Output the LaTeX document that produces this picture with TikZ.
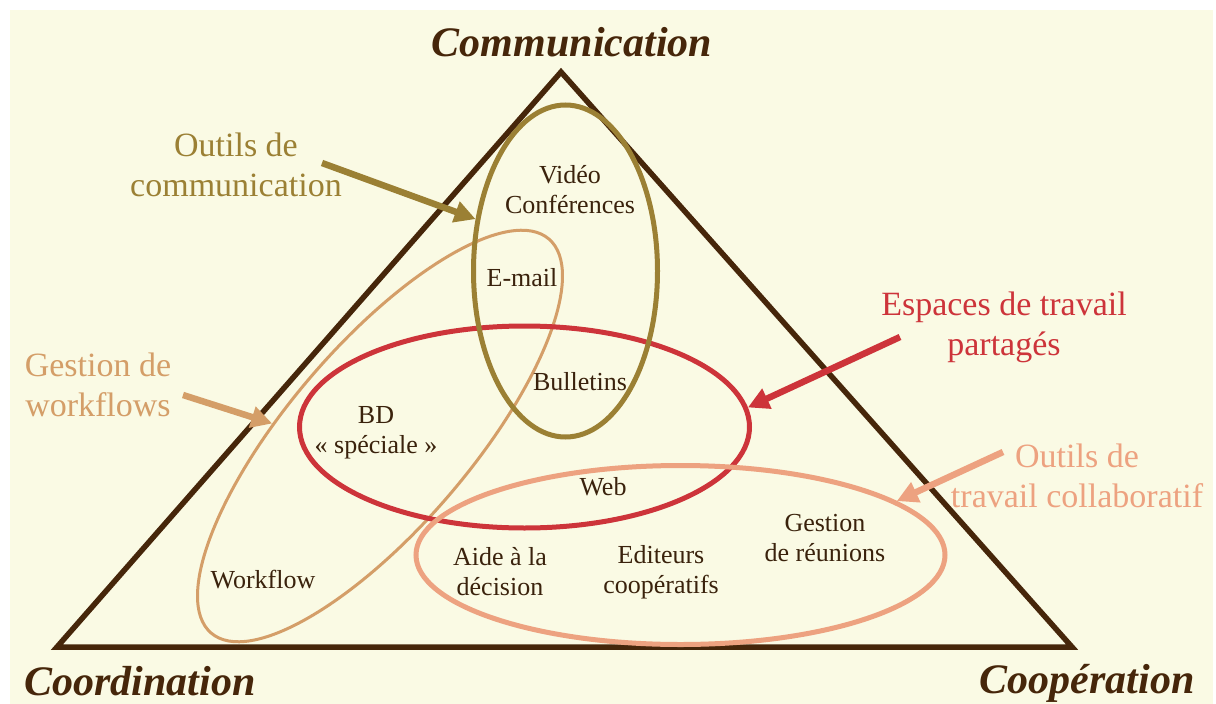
\documentclass[tikz,border=0pt]{standalone}
\usepackage{fontspec}
\setmainfont{Liberation Serif}
\usetikzlibrary{shapes.geometric, arrows.meta}
\definecolor{bgyellow}{RGB}{250,250,228}
\definecolor{darkbrown}{RGB}{70,38,10}
\definecolor{textbrown}{RGB}{58,34,12}
\definecolor{commcolor}{RGB}{155,128,52}
\definecolor{wfcolor}{RGB}{212,158,104}
\definecolor{spacecolor}{RGB}{205,52,58}
\definecolor{collabcolor}{RGB}{237,162,128}
\tikzstyle{corner} = [text=darkbrown, inner sep=0pt, font=\fontsize{42}{48}\selectfont\bfseries\itshape]
\tikzstyle{tool} = [ellipse, draw, inner sep=0pt, line width=5pt]
\tikzstyle{item} = [text=textbrown, align=center, inner sep=0pt, font=\fontsize{26}{30}\selectfont]
\tikzstyle{legend} = [align=center, inner sep=0pt, font=\fontsize{34}{40}\selectfont]
\tikzstyle{arrow} = [line width=6.5pt, -{Triangle[length=21pt,width=21pt]}]

\begin{document}
\begin{tikzpicture}[x=1pt, y=-1pt, node distance=160pt]
\useasboundingbox (0,0) rectangle (1216,704);
\fill[bgyellow] (10,10) rectangle (1213,704);

\coordinate (apexpt) at (561,72);
\coordinate (leftpt) at (57,647);
\coordinate (rightpt) at (1072,647);
\draw [line width=5.5pt, darkbrown] (apexpt) -- (leftpt) -- (rightpt) -- cycle;

\node (communication) [corner] at (572,42) {Communication};
\node (coordination) [corner] at (140,681) {Coordination};
\node (cooperation) [corner] at (1087,683) {Coopération};

\node (wf) [tool, draw=wfcolor, line width=3pt, minimum width=519pt, minimum height=182pt, rotate=49.4] at (380,436) {};
\node (space) [tool, draw=spacecolor, minimum width=450pt, minimum height=202pt] at (524.5,427) {};
\node (comm) [tool, draw=commcolor, minimum width=184pt, minimum height=332pt] at (565.5,271) {};
\node (collab) [tool, draw=collabcolor, minimum width=529pt, minimum height=179pt] at (680.5,555) {};

\node (video) [item] at (570,190) {Vidéo\\Conférences};
\node (email) [item] at (522,278) {E-mail};
\node (bulletins) [item] at (580,382) {Bulletins};
\node (bd) [item] at (376,433) {BD\\« spéciale »};
\node (web) [item] at (603,487) {Web};
\node (workflow) [item] at (263,580) {Workflow};
\node (decision) [item] at (500,572) {Aide à la\\décision};
\node (editeurs) [item, right of=decision, xshift=1pt] {Editeurs\\coopératifs};
\node (reunions) [item, right of=editeurs, xshift=4pt, yshift=34pt] {Gestion\\de réunions};

\node (commtxt) [legend, text=commcolor] at (236,165) {Outils de\\communication};
\node (wftxt) [legend, text=wfcolor] at (98,385) {Gestion de\\workflows};
\node (spacetxt) [legend, text=spacecolor] at (1004,327) {Espaces de travail\\partagés};
\node (collabtxt) [legend, text=collabcolor] at (1077,476) {Outils de\\travail collaboratif};

\coordinate (commfrom) at (322,163);
\coordinate (wffrom) at (183,395);
\coordinate (spacefrom) at (900,337);
\coordinate (collabfrom) at (1003,452);

\draw [arrow, commcolor] (commfrom) -- (comm.150);
\draw [arrow, wfcolor] (wffrom) -- (wf.124);
\draw [arrow, spacecolor] (spacefrom) -- (space.5);
\draw [arrow, collabcolor] (collabfrom) -- (collab.14);
\end{tikzpicture}
\end{document}
